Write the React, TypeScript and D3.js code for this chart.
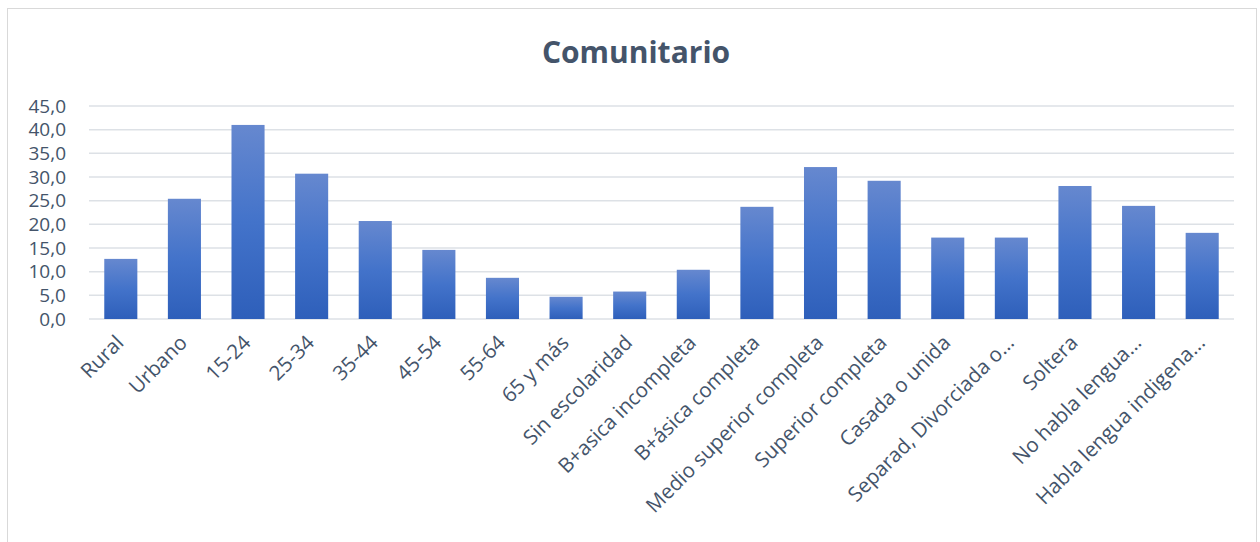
import React from "react";
import * as d3 from "d3";

const categories = [
  "Rural", "Urbano", "15-24", "25-34", "35-44", "45-54", "55-64", "65 y más",
  "Sin escolaridad", "B+asica incompleta", "B+ásica completa", "Medio superior completa",
  "Superior completa", "Casada o unida", "Separad, Divorciada o...", "Soltera",
  "No habla lengua...", "Habla lengua indigena...",
];
const values = [12.7, 25.4, 41.0, 30.7, 20.7, 14.6, 8.7, 4.7, 5.8, 10.4, 23.7, 32.1, 29.2, 17.2, 17.2, 28.1, 23.9, 18.2];
const yTicks = [0, 5, 10, 15, 20, 25, 30, 35, 40, 45];
const title = "Comunitario";

const W = 1260, H = 542;
const M = { left: 89, right: 26, top: 106, bottom: 223 };
const FONT = "'Open Sans', 'Noto Sans', sans-serif";
const TXT = "#44546A";

export default function App() {
  const x = d3.scaleBand<string>().domain(categories).range([M.left, W - M.right]).paddingInner(0.48).paddingOuter(0.24);
  const y = d3.scaleLinear().domain([0, 45]).range([H - M.bottom, M.top]);
  const fmt = (v: number) => v.toFixed(1).replace(".", ",");
  return (
    <svg width={W} height={H} style={{ position: "absolute", left: 0, top: 0, background: "#fff" }}>
      <defs>
        <linearGradient id="barGrad" x1="0" y1="0" x2="0" y2="1">
          <stop offset="0%" stopColor="#6688CF" />
          <stop offset="50%" stopColor="#4373CA" />
          <stop offset="100%" stopColor="#2E5FBA" />
        </linearGradient>
      </defs>
      <rect x={7.5} y={8.5} width={1249} height={560} fill="#fff" stroke="#d9d9d9" strokeWidth={1} />
      <text x={636} y={63} textAnchor="middle" fontFamily={FONT} fontWeight={700} fontSize={30} fill={TXT}>{title}</text>
      {yTicks.map((t) => (
        <g key={t}>
          <line x1={M.left} x2={W - M.right + 0} y1={y(t)} y2={y(t)} stroke="#dde1e6" strokeWidth={1.5} />
          <text x={66} y={y(t)} dy="0.35em" textAnchor="end" fontFamily={FONT} fontSize={19} fill={TXT}>{fmt(t)}</text>
        </g>
      ))}
      {categories.map((c, i) => (
        <rect key={c} x={x(c)} y={y(values[i])} width={x.bandwidth()} height={y(0) - y(values[i])} fill="url(#barGrad)" />
      ))}
      {categories.map((c) => {
        const cx = (x(c) as number) + x.bandwidth() / 2;
        return (
          <text key={c} transform={`translate(${cx + 4},${y(0) + 25}) rotate(-45)`} textAnchor="end" fontFamily={FONT} fontSize={20.5} fill={TXT}>{c}</text>
        );
      })}
    </svg>
  );
}
